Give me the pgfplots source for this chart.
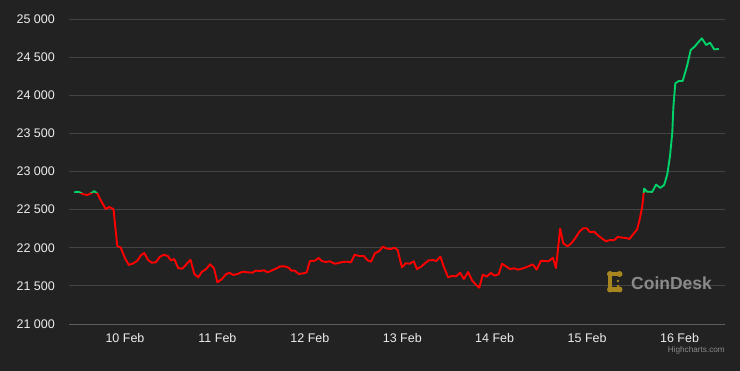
\documentclass[border=0pt]{standalone}
\usepackage{pgfplots}
\pgfplotsset{compat=1.18}
\usepackage{pgfplotstable}
\usepackage{fontspec}
\setmainfont{Liberation Sans}
\definecolor{bg}{HTML}{222222}
\definecolor{gridc}{HTML}{434343}
\definecolor{axisc}{HTML}{5E5E5E}
\definecolor{upc}{HTML}{00D26A}
\definecolor{downc}{HTML}{FF0000}
\definecolor{lab}{HTML}{EDEDED}
\definecolor{gold}{HTML}{A8861F}
\definecolor{wm}{HTML}{8A8A8A}
\pgfplotstableread{
h v
-13.2 22727
-12.1 22735
-10.8 22701
-9.8 22692
-8.8 22714
-8.0 22744
-7.1 22705
-6.1 22604
-5.0 22508
-4.1 22534
-3.0 22508
-2.0 22023
-1.1 22001
0.0 21862
1.0 21774
2.2 21796
3.2 21830
4.2 21905
5.0 21931
6.0 21839
6.9 21804
8.0 21809
9.1 21883
10.1 21908
11.1 21892
11.9 21835
12.8 21852
13.8 21734
14.9 21725
16.0 21787
17.0 21843
18.0 21656
19.0 21612
20.0 21686
21.0 21717
22.1 21783
23.1 21730
24.0 21547
25.1 21586
26.2 21651
27.1 21673
28.1 21643
29.2 21656
30.6 21686
31.8 21678
33.0 21673
34.0 21699
35.1 21695
36.1 21704
37.0 21678
38.2 21704
39.2 21725
40.3 21756
41.5 21756
42.5 21738
43.2 21699
44.1 21699
45.1 21656
46.3 21664
47.2 21678
48.0 21826
49.3 21830
50.3 21866
51.1 21826
52.1 21813
53.2 21822
54.4 21791
55.2 21796
56.4 21813
57.5 21817
58.7 21809
59.6 21908
60.8 21892
62.0 21892
63.0 21835
63.9 21817
64.9 21927
66.0 21957
67.0 22014
68.0 21988
69.1 21984
69.9 22001
70.8 21971
71.9 21743
72.9 21796
73.9 21791
75.0 21822
75.8 21721
76.9 21752
77.9 21796
78.9 21835
80.0 21839
80.8 21826
81.9 21883
82.7 21761
83.9 21612
84.9 21630
86.0 21625
87.0 21673
88.0 21590
89.1 21682
90.1 21573
91.2 21512
92.0 21476
92.9 21647
93.9 21621
95.0 21669
96.0 21634
97.0 21652
97.9 21791
98.9 21756
100.0 21721
101.0 21730
102.1 21713
103.1 21726
104.1 21743
105.9 21782
106.9 21713
108.0 21830
109.0 21826
110.0 21822
111.1 21869
111.9 21734
113.0 22250
113.8 22058
114.9 22019
115.9 22058
116.9 22124
118.0 22211
119.0 22255
119.9 22255
120.8 22203
121.8 22211
122.8 22164
123.9 22120
124.9 22085
126.0 22102
127.0 22098
127.9 22141
129.1 22133
130.1 22128
131.0 22115
132.0 22180
133.0 22242
133.7 22386
134.3 22538
134.8 22775
135.6 22735
136.9 22733
137.9 22828
139.0 22785
140.0 22823
140.8 22960
141.5 23194
142.1 23501
142.4 23850
142.9 24157
143.8 24187
144.8 24187
145.9 24375
146.9 24594
147.9 24637
149.0 24703
149.8 24746
150.9 24659
151.9 24689
153.0 24602
154.2 24606
}\price
\begin{document}
\begin{tikzpicture}
\path[use as bounding box, fill=bg] (0pt,0pt) rectangle (740pt,371pt);
\begin{axis}[
  at={(69pt,47pt)}, anchor=south west,
  scale only axis, width=656pt, height=305pt,
  xmin=-14.54, xmax=155.8, ymin=21000, ymax=25000,
  axis x line*=bottom, axis y line*=left,
  x axis line style={draw=axisc, line width=0.9pt, -},
  y axis line style={draw=none},
  major tick length=0pt,
  scaled y ticks=false, scaled x ticks=false,
  xtick={0,24,48,72,96,120,144},
  xticklabels={10 Feb,11 Feb,12 Feb,13 Feb,14 Feb,15 Feb,16 Feb},
  ytick={21000,21500,22000,22500,23000,23500,24000,24500,25000},
  yticklabels={21 000,21 500,22 000,22 500,23 000,23 500,24 000,24 500,25 000},
  ymajorgrids, major grid style={draw=gridc, line width=0.9pt},
  xticklabel style={anchor=base, inner sep=0pt, yshift=-19pt, text=lab, font=\fontsize{12.5}{14}\selectfont},
  yticklabel style={anchor=east, inner sep=0pt, xshift=-14pt, text=lab, font=\fontsize{12.5}{14}\selectfont},
]
\begin{scope}
\clip (axis cs:-20,20000) rectangle (axis cs:160,22727);
\addplot[downc, line width=1.9pt, line join=round, no marks] table[x=h,y=v]{\price};
\end{scope}
\begin{scope}
\clip (axis cs:-20,22727) rectangle (axis cs:160,26000);
\addplot[upc, line width=1.9pt, line join=round, no marks] table[x=h,y=v]{\price};
\end{scope}
\end{axis}
% CoinDesk watermark
\draw[gold, line width=4.5pt] (619.5pt,97pt) -- (610pt,97pt) -- (610pt,81.5pt) -- (619.5pt,81.5pt);
\foreach \p in {(610pt,97pt),(610pt,81.5pt),(619.5pt,97pt),(619.5pt,81.5pt)} \fill[gold] \p circle (3pt);
\fill[gold] (618pt,90pt) circle (1.3pt);
\fill[gold] (618pt,85pt) circle (1.3pt);
\node[anchor=base west, inner sep=0pt, text=wm, font=\bfseries\fontsize{17.5}{20}\selectfont] at (631pt,81pt) {CoinDesk};
\node[anchor=base east, inner sep=0pt, text=wm, font=\fontsize{8.2}{9}\selectfont] at (725pt,18pt) {Highcharts.com};
\end{tikzpicture}
\end{document}
